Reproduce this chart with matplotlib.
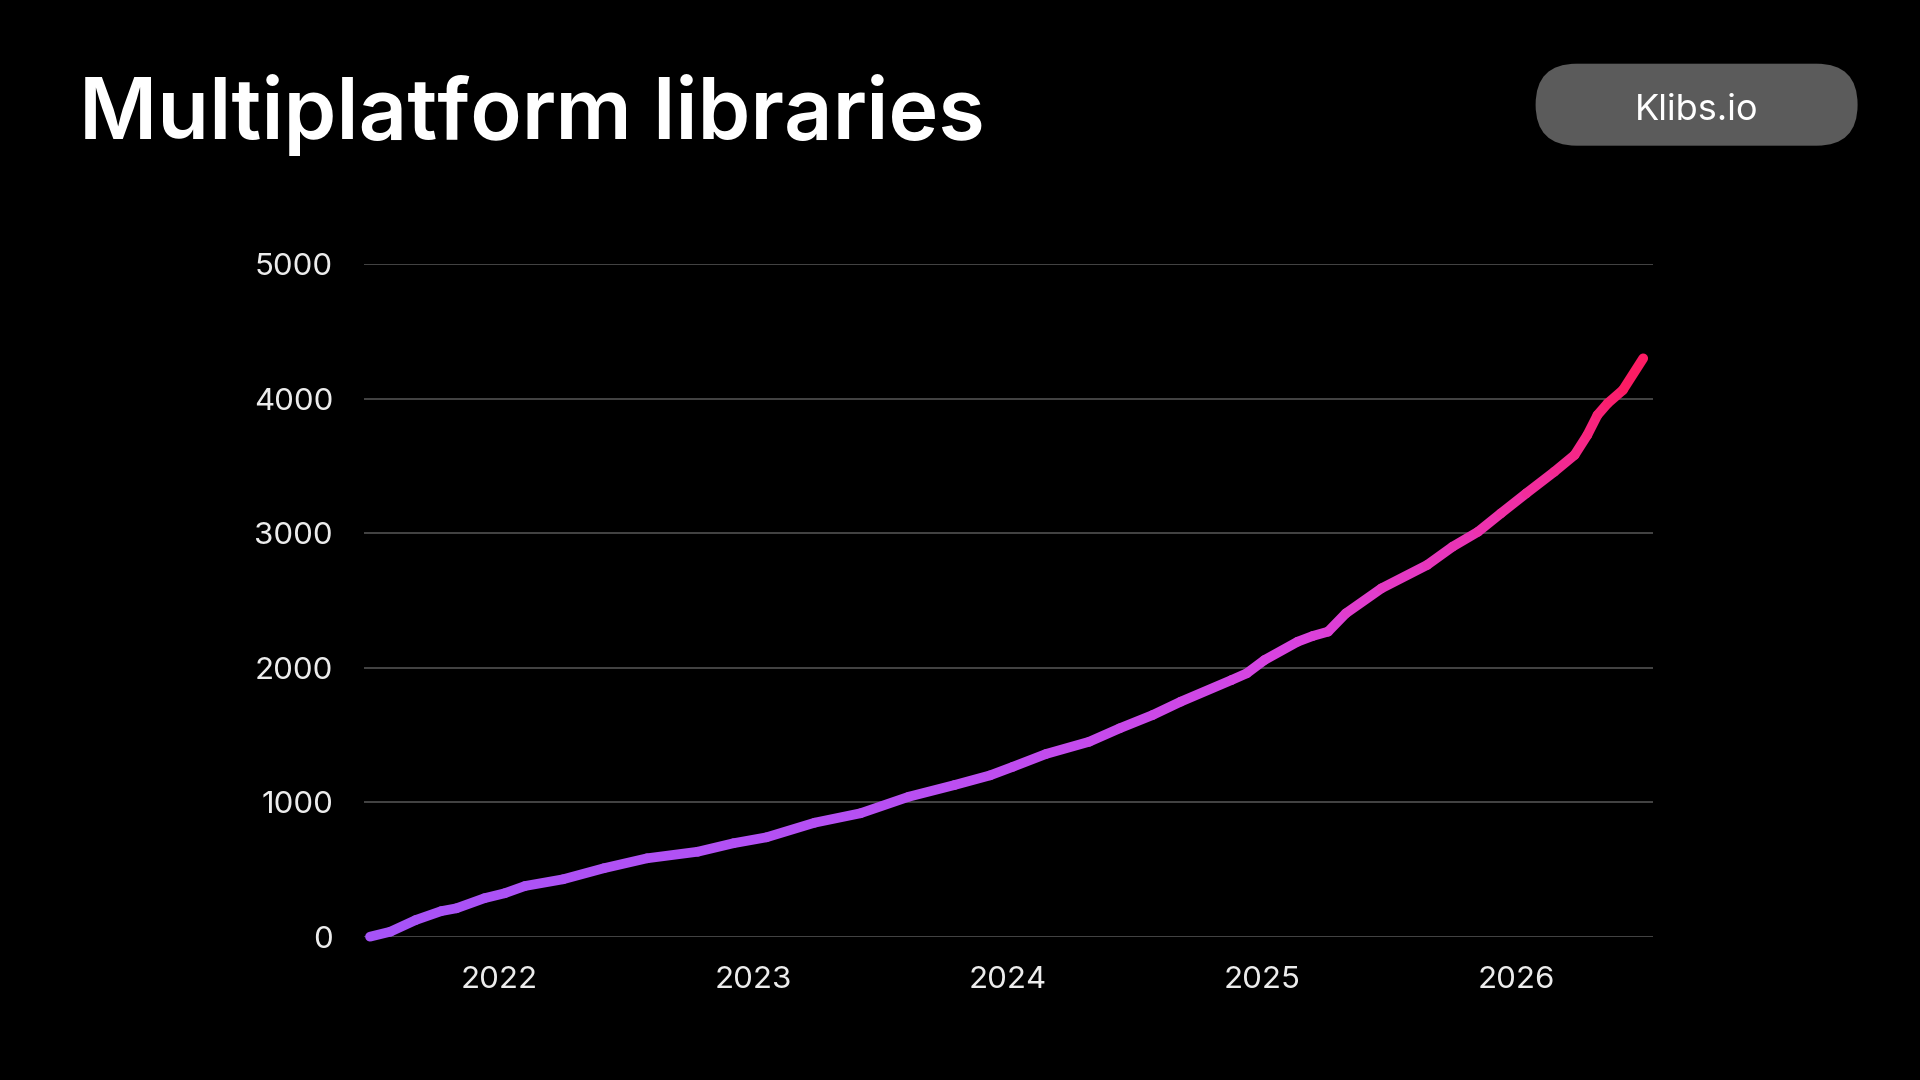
import numpy as np
import matplotlib
matplotlib.use("Agg")
import matplotlib.pyplot as plt
from matplotlib.collections import LineCollection
from matplotlib.colors import LinearSegmentedColormap
from matplotlib.patches import FancyBboxPatch

# ---- data (decimal year, number of libraries) ----
years = [2021.49, 2021.57, 2021.67, 2021.77, 2021.83, 2021.94, 2022.02, 2022.10,
         2022.25, 2022.41, 2022.58, 2022.78, 2022.92, 2023.05, 2023.24, 2023.42,
         2023.61, 2023.79, 2023.93, 2024.02, 2024.15, 2024.32, 2024.44, 2024.57,
         2024.68, 2024.88, 2024.94, 2025.01, 2025.14, 2025.20, 2025.26, 2025.33,
         2025.47, 2025.65, 2025.75, 2025.85, 2025.94, 2026.04, 2026.15, 2026.23,
         2026.28, 2026.32, 2026.36, 2026.42, 2026.50]
libraries = [0, 37, 124, 190, 211, 286, 323, 377,
             427, 509, 583, 632, 695, 739, 848, 918,
             1041, 1128, 1200, 1264, 1359, 1450, 1550, 1649,
             1748, 1909, 1959, 2058, 2194, 2237, 2269, 2405,
             2591, 2765, 2901, 3012, 3149, 3298, 3458, 3583,
             3731, 3880, 3967, 4066, 4302]
x_ticks = [2022, 2023, 2024, 2025, 2026]
x_tick_labels = ["2022", "2023", "2024", "2025", "2026"]
y_ticks = [0, 1000, 2000, 3000, 4000, 5000]
title = "Multiplatform libraries"
badge = "Klibs.io"

FONT = ["Inter", "DejaVu Sans"]
plt.rcParams["font.family"] = FONT

fig = plt.figure(figsize=(19.2, 10.8), dpi=100, facecolor="black")
ax = fig.add_axes([0.1894, 0.1327, 0.6716, 0.6224], facecolor="black")

x = np.array(years)
y = np.array(libraries, dtype=float)
pts = np.column_stack([x, y]).reshape(-1, 1, 2)
segs = np.concatenate([pts[:-1], pts[1:]], axis=1)
cmap = LinearSegmentedColormap.from_list(
    "grad", [(0.0, "#a653f7"), (0.25, "#b94ff2"), (0.5, "#d943e0"),
             (0.75, "#ef2fa6"), (1.0, "#ff1a5c")])
mid = (y[:-1] + y[1:]) / 2 / y.max()
lc = LineCollection(segs, colors=cmap(mid), linewidths=7.0,
                    capstyle="round", joinstyle="round", clip_on=False, zorder=3)
ax.add_collection(lc)

ax.set_xlim(2021.465, 2026.539)
ax.set_ylim(0, 5000)
ax.set_yticks(y_ticks)
ax.set_yticklabels([str(v) for v in y_ticks])
ax.set_xticks(x_ticks)
ax.set_xticklabels(x_tick_labels)
ax.grid(axis="y", color="#4a4a4a", linewidth=1.3, zorder=0)
ax.grid(axis="x", visible=False)
for s in ax.spines.values():
    s.set_visible(False)
ax.tick_params(axis="both", length=0, labelsize=22.5, labelcolor="#ececec")
ax.tick_params(axis="y", pad=22)
ax.tick_params(axis="x", pad=21)

# title
fig.text(0.79, 9.407, title, transform=fig.dpi_scale_trans, fontsize=61,
         fontweight="semibold", color="white", ha="left", va="baseline")

# badge
box = FancyBboxPatch((15.356, 9.343), 3.22, 0.82,
                     boxstyle="round,pad=0,rounding_size=0.41",
                     transform=fig.dpi_scale_trans, facecolor="#5b5b5b",
                     edgecolor="none")
fig.patches.append(box)
fig.text(16.966, 9.70, badge, transform=fig.dpi_scale_trans, fontsize=26,
         color="white", ha="center", va="center")

fig.savefig("out.png", dpi=100, facecolor="black")
